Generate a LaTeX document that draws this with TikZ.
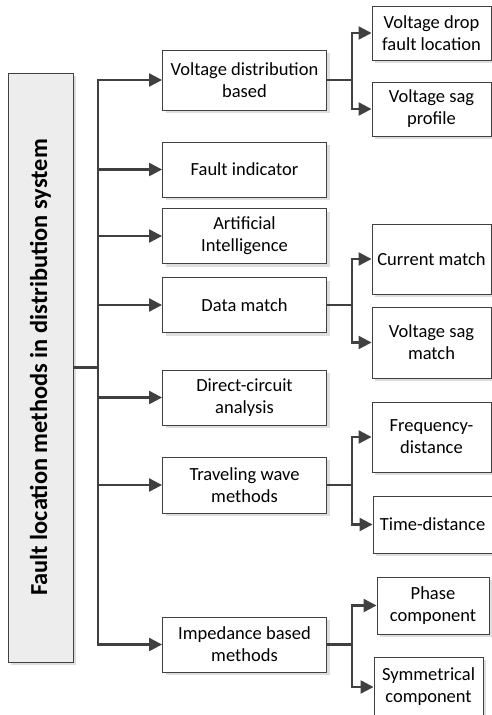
\documentclass[tikz,border=0pt]{standalone}
\usepackage{fontspec}
\setmainfont{Carlito}
\usetikzlibrary{arrows.meta,shadows}

\begin{document}
\begin{tikzpicture}[x=1pt,y=-1pt,
  box/.style={draw=black!75,line width=0.9pt,fill=white,align=center,inner sep=2pt,
    minimum width=164pt,minimum height=55pt,font=\fontsize{18.5}{22}\selectfont,
    general shadow={fill=black!13,shadow xshift=3pt,shadow yshift=-3pt}},
  leaf/.style={box,minimum width=119pt,minimum height=57pt},
  link/.style={draw=black!75,line width=2.3pt,-{Triangle[length=13pt,width=13pt]}}]
\useasboundingbox (0,0) rectangle (492,715);
\node[box,fill=black!7,minimum width=65pt,minimum height=589pt] (root) at (40.5,367.5)
  {\rotatebox{90}{\fontsize{24.4}{28}\selectfont\bfseries Fault location methods in distribution system}};
\node[box,minimum height=60pt] (vdb) at (244.5,80) {Voltage distribution\\based};
\node[box] (fi) at (244.5,169.5) {Fault indicator};
\node[box] (ai) at (244.5,236) {Artificial\\Intelligence};
\node[box] (dm) at (244.5,305) {Data match};
\node[box] (dca) at (244.5,397.5) {Direct-circuit\\analysis};
\node[box,minimum height=56pt] (twm) at (244.5,485) {Traveling wave\\methods};
\node[box] (ibm) at (244.5,644.5) {Impedance based\\methods};
\node[leaf,minimum height=54pt] (vdf) at (431.5,33) {Voltage drop\\fault location};
\node[leaf,minimum height=54pt] (vsp) at (431.5,109) {Voltage sag\\profile};
\node[leaf,minimum height=70pt] (cm) at (431.5,259) {Current match};
\node[leaf,minimum height=71pt] (vsm) at (431.5,342.5) {Voltage sag\\match};
\node[leaf,minimum height=70pt] (fd) at (431.5,437) {Frequency-\\distance};
\node[leaf] (td) at (432.5,524.5) {Time-distance};
\node[leaf,minimum width=112pt] (pc) at (433,605.5) {Phase\\component};
\node[leaf,minimum width=109pt,minimum height=60pt] (sc) at (428.5,687) {Symmetrical\\component};
\coordinate (hub) at (98,367.5);
\draw[draw=black!75,line width=2.3pt] (root.east) -- (hub);
\foreach \n in {vdb,fi,ai,dm,dca,twm,ibm}
  \draw[link] (hub) |- (\n.west);
\draw[link] (vdb.east) -- ++(25,0) |- (vdf.west);
\draw[link] (vdb.east) -- ++(25,0) |- (vsp.west);
\draw[link] (dm.east) -- ++(25,0) |- (cm.west);
\draw[link] (dm.east) -- ++(25,0) |- (vsm.west);
\draw[link] (twm.east) -- ++(25,0) |- (fd.west);
\draw[link] (twm.east) -- ++(25,0) |- (td.west);
\draw[link] (ibm.east) -- ++(25,0) |- (pc.west);
\draw[link] (ibm.east) -- ++(25,0) |- (sc.west);
\end{tikzpicture}
\end{document}
